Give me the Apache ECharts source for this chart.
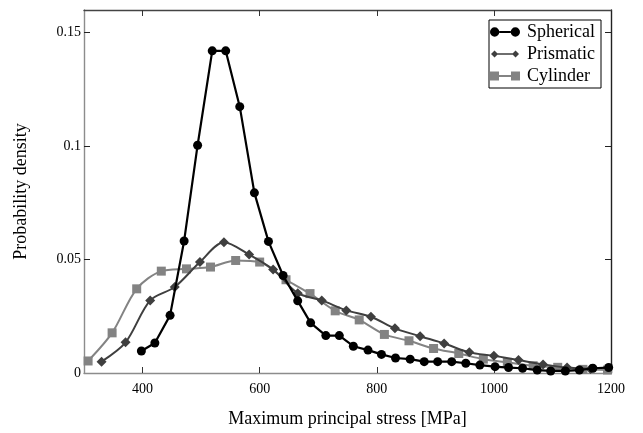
<!DOCTYPE html>
<html>
<head>
<meta charset="utf-8">
<script src="https://cdn.jsdelivr.net/npm/echarts@6/dist/echarts.min.js"></script>
<style>html,body{margin:0;padding:0;background:#fff}#c{width:643px;height:433px}</style>
</head>
<body>
<div id="c"></div>
<script>
var seriesNames = ['Spherical', 'Prismatic', 'Cylinder'];
var sphericalX = [398,421,447,471,494,519,542,566,591,615,640,665,687,713,736,760,785,808,832,857,881,904,928,952,976,1002,1025,1049,1074,1097,1122,1146,1169,1196];
var sphericalY = [0.0097,0.0132,0.0254,0.0582,0.1004,0.142,0.142,0.1174,0.0794,0.058,0.043,0.0318,0.0221,0.0165,0.0165,0.0118,0.0101,0.0082,0.0066,0.0061,0.005,0.005,0.005,0.0043,0.0035,0.0028,0.0024,0.0021,0.0013,0.0009,0.0009,0.0013,0.0021,0.0024];
var prismaticX = [330,371,413,455,498,539,582,623,665,706,748,790,831,874,915,958,1000,1042,1084,1125,1165];
var prismaticY = [0.005,0.0135,0.032,0.0379,0.0489,0.0576,0.0522,0.0456,0.0352,0.032,0.0276,0.0248,0.0197,0.0162,0.013,0.0091,0.0076,0.0057,0.0038,0.0024,0.0018];
var cylinderX = [307,348,390,432,475,516,559,600,645,686,729,770,813,855,897,940,982,1023,1067,1109,1152,1194];
var cylinderY = [0.0053,0.0177,0.0371,0.0449,0.0459,0.0467,0.0496,0.0489,0.0411,0.035,0.0274,0.0234,0.017,0.0142,0.0108,0.0086,0.0061,0.0047,0.0032,0.0025,0.0016,0.0013];
var xLabelValues = [400,600,800,1000,1200];
var xTickValues = [400,600,800,1000];
var yLabelValues = [0,0.05,0.1,0.15];
var yTickValues = [0.05,0.1,0.15];

function pairs(xs, ys){ return xs.map(function(x,i){ return [x, ys[i]]; }); }

var font = '"Liberation Serif", "Times New Roman", serif';
var colors = ['#000000', '#3f3f3f', '#838383'];
var icons = [
  'path://M0.5,5a4.5,4.5 0 1,0 9,0a4.5,4.5 0 1,0 -9,0Z M20.5,5a4.5,4.5 0 1,0 9,0a4.5,4.5 0 1,0 -9,0Z M9.5,4H20.5V6H9.5Z',
  'path://M1,5L4.5,1.5L8,5L4.5,8.5Z M22,5L25.5,1.5L29,5L25.5,8.5Z M4,4.2H26V5.8H4Z M0,0H0.01V0.01H0Z M29.99,9.99H30V10H29.99Z',
  'path://M0,0.5H9V9.5H0Z M21,0.5H30V9.5H21Z M5,4H25V6H5Z M0,0H0.01V0.01H0Z M29.99,9.99H30V10H29.99Z'
];
var chart = echarts.init(document.getElementById('c'), null, {renderer:'canvas'});
function xAxisBase(pos, color){
  return {
    type:'value', min:300, max:1200, position:pos,
    axisLine:{show:true, onZero:false, lineStyle:{color:color, width:1.4}},
    axisTick:{show:true, inside:true, length:6, customValues:xTickValues, lineStyle:{color:'#333'}},
    splitLine:{show:false}
  };
}
function yAxisBase(pos, color){
  return {
    type:'value', min:0, max:0.16, position:pos,
    axisLine:{show:true, onZero:false, lineStyle:{color:color, width:1.4}},
    axisTick:{show:true, inside:true, length:6, customValues:yTickValues, lineStyle:{color:'#222'}},
    splitLine:{show:false}
  };
}
var xb = xAxisBase('bottom', '#8c8c8c');
xb.name = 'Maximum principal stress [MPa]';
xb.nameLocation = 'middle';
xb.nameGap = 37;
xb.nameTextStyle = {fontFamily:font, fontSize:18, color:'#000'};
xb.axisLabel = {show:true, customValues:xLabelValues, margin:9, fontFamily:font, fontSize:14, color:'#000',
  formatter:function(v){ return String(v); }};
var xt = xAxisBase('top', '#444');
xt.axisLabel = {show:false};
var yl = yAxisBase('left', '#8c8c8c');
yl.name = 'Probability density';
yl.nameLocation = 'middle';
yl.nameGap = 54;
yl.nameTextStyle = {fontFamily:font, fontSize:18, color:'#000'};
yl.axisLabel = {show:true, customValues:yLabelValues, margin:3, fontFamily:font, fontSize:14, color:'#000',
  formatter:function(v){ return String(v); }};
var yr = yAxisBase('right', '#222');
yr.axisLabel = {show:false};

chart.setOption({
  animation:false,
  backgroundColor:'#fff',
  textStyle:{fontFamily:font},
  grid:{left:84, right:32, top:10, bottom:58, containLabel:false},
  legend:{
    right:42, top:20, orient:'vertical',
    data:seriesNames.map(function(n,i){ return {name:n, icon:icons[i], itemStyle:{color:colors[i]}, textStyle:{fontFamily:font, fontSize:18, color:'#000'}}; }),
    backgroundColor:'#fff', borderColor:'#000', borderWidth:1,
    padding:[3,6,3,1], itemGap:4, itemWidth:30, itemHeight:10,
    textStyle:{fontFamily:font, fontSize:18, color:'#000', padding:[0,0,0,2]}
  },
  xAxis:[xb, xt],
  yAxis:[yl, yr],
  series:[
    {name:seriesNames[0], type:'line', data:pairs(sphericalX, sphericalY),
      symbol:'circle', symbolSize:9, color:colors[0],
      lineStyle:{color:colors[0], width:2.2}, itemStyle:{color:colors[0]}, z:5},
    {name:seriesNames[1], type:'line', data:pairs(prismaticX, prismaticY), smooth:0.3,
      symbol:'diamond', symbolSize:10, color:colors[1],
      lineStyle:{color:colors[1], width:2}, itemStyle:{color:colors[1]}, z:4},
    {name:seriesNames[2], type:'line', data:pairs(cylinderX, cylinderY), smooth:0.3,
      symbol:'rect', symbolSize:9, color:colors[2],
      lineStyle:{color:colors[2], width:2}, itemStyle:{color:colors[2]}, z:3}
  ]
});
</script>
</body>
</html>
